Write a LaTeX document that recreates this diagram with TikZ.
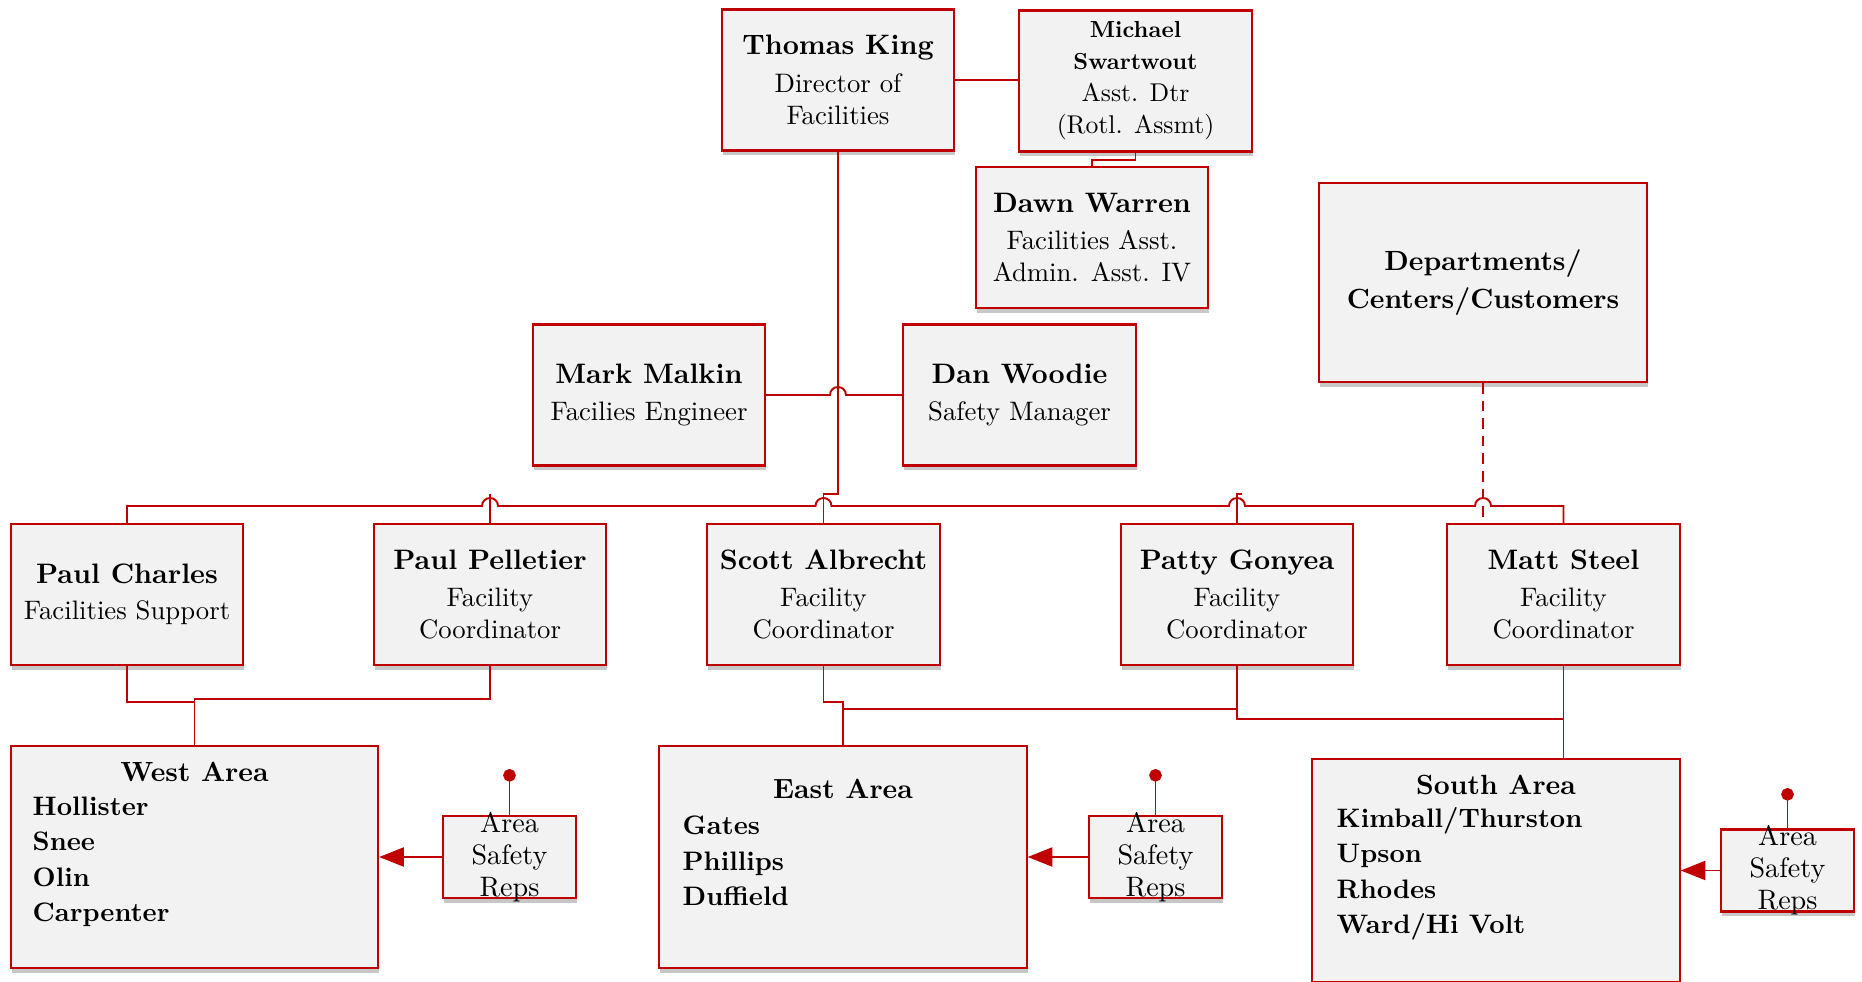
\documentclass[tikz,border=0pt]{standalone}
\usepackage{fontspec}
\setmainfont{lmroman10-regular.otf}[BoldFont=lmroman10-bold.otf]
\usepackage{tikz}
\usepackage{xcolor}
\usetikzlibrary{arrows.meta,calc,shadows}
\definecolor{DarkRed}{RGB}{192,0,0}
\definecolor{BoxGray}{RGB}{242,242,242}
\colorlet{ShadowGray}{black!22}
\newcommand{\nameFont}{\fontsize{8}{9.7}\selectfont\bfseries}
\newcommand{\smallNameFont}{\fontsize{6.6}{9.1}\selectfont\bfseries}
\newcommand{\descFont}{\fontsize{7.6}{9.1}\selectfont}
\newcommand{\areaFont}{\fontsize{7.6}{10.1}\selectfont\bfseries}
\tikzstyle{personBlock}=[draw=DarkRed, fill=BoxGray, line width=0.6pt, minimum width=2.32cm, minimum height=1.41cm, inner sep=1pt, align=center, font=\descFont, drop shadow={shadow xshift=0.3pt, shadow yshift=-1.3pt, fill=ShadowGray, opacity=1}]
\tikzstyle{areaBlock}=[personBlock, minimum width=3.67cm, minimum height=2.22cm]
\tikzstyle{repsBlock}=[personBlock, minimum width=1.33cm, minimum height=0.82cm]
\tikzstyle{repsText}=[inner sep=0pt, align=center, font=\fontsize{8}{9.1}\selectfont]
\tikzstyle{areaText}=[inner sep=0pt, align=left, font=\areaFont]
\tikzstyle{orgLink}=[draw=DarkRed, line width=0.55pt]
\tikzstyle{dashedLink}=[orgLink, dash pattern=on 3pt off 2pt]
\tikzstyle{repsArrow}=[orgLink, -{Triangle[length=7pt,width=5.4pt]}]
\tikzstyle{repsPin}=[orgLink, {Circle[length=3.6pt]}-]

\begin{document}
\begin{tikzpicture}[x=0.01cm, y=-0.01cm]
	\useasboundingbox (0,0) rectangle (1862,982);
	\coordinate (jogY) at (0,494);
	\coordinate (busY) at (0,506);

	% Director and office
	\node[personBlock] (director) at (838,80) {{\nameFont Thomas King}\\[1.5pt]Director of\\Facilities};
	\node[personBlock, font=\fontsize{7.3}{9.1}\selectfont] (asstDirector) at (1135.5,81) {{\smallNameFont Michael}\\{\smallNameFont Swartwout}\\Asst. Dtr\\(Rotl. Assmt)};
	\node[personBlock] (adminAsst) at (1092,237.5) {{\nameFont Dawn Warren}\\[1.5pt]Facilities Asst.\\Admin. Asst. IV};
	\draw[orgLink] (director.east |- 0,80) -- (asstDirector.west |- 0,80);
	\draw[orgLink] (asstDirector.south) -- ++(0,7) -| (adminAsst.north);

	\node[personBlock, minimum width=3.28cm, minimum height=1.99cm, font=\fontsize{7.9}{10.8}\selectfont\bfseries] (customers) at (1483,282.5) {Departments/\\Centers/Customers};

	% Staff
	\node[personBlock] (engineer) at (649,395) {{\nameFont Mark Malkin}\\[1.5pt]Facilies Engineer};
	\node[personBlock] (safetyMgr) at (1019.5,395) {{\nameFont Dan Woodie}\\[1.5pt]Safety Manager};
	\draw[orgLink] (engineer) -- ($(director.south |- engineer)+(-8,0)$) arc[start angle=180,end angle=0,radius=0.08cm] -- (safetyMgr);

	% Coordinators
	\node[personBlock] (charles) at (127,594.5) {{\nameFont Paul Charles}\\[1pt]Facilities Support};
	\node[personBlock] (pelletier) at (490,594.5) {{\nameFont Paul Pelletier}\\[1.5pt]Facility\\Coordinator};
	\node[personBlock] (albrecht) at (823.5,594.5) {{\nameFont Scott Albrecht}\\[1.5pt]Facility\\Coordinator};
	\node[personBlock] (gonyea) at (1237,594.5) {{\nameFont Patty Gonyea}\\[1.5pt]Facility\\Coordinator};
	\node[personBlock] (steel) at (1563.5,594.5) {{\nameFont Matt Steel}\\[1.5pt]Facility\\Coordinator};

	\draw[orgLink] (director.south) -- (director.south |- jogY) -| (albrecht.north);
	\draw[orgLink] (charles.north) |- ($(pelletier.north |- busY)+(-8,0)$) arc[start angle=180,end angle=0,radius=0.08cm]
		-- ($(albrecht.north |- busY)+(-8,0)$) arc[start angle=180,end angle=0,radius=0.08cm]
		-- ($(gonyea.north |- busY)+(-8,0)$) arc[start angle=180,end angle=0,radius=0.08cm]
		-- ($(customers.south |- busY)+(-8,0)$) arc[start angle=180,end angle=0,radius=0.08cm]
		-| (steel.north);
	\draw[orgLink] (pelletier.north) -- ++(0,-29);
	\draw[orgLink] (gonyea.north) -- ++(0,-29) -- ++(5,0);
	\draw[dashedLink] (customers.south) -- ($(customers.south |- steel.north)+(0,-6)$);

	% Areas
	\node[areaBlock] (westArea) at (194.5,857) {};
	\node[areaText, font=\fontsize{7.9}{10.1}\selectfont\bfseries] (westTitle) at (194.5,772) {West Area};
	\node[areaText, anchor=west] (westList) at (32,862) {Hollister\\Snee\\Olin\\Carpenter};

	\node[areaBlock] (eastArea) at (843,857) {};
	\node[areaText, font=\fontsize{7.9}{10.1}\selectfont\bfseries] (eastTitle) at (843,789) {East Area};
	\node[areaText, anchor=west] (eastList) at (682,861) {Gates\\Phillips\\Duffield};

	\node[areaBlock] (southArea) at (1496,870.5) {};
	\node[areaText, font=\fontsize{7.9}{10.1}\selectfont\bfseries] (southTitle) at (1496,785) {South Area};
	\node[areaText, anchor=west] (southList) at (1336,874) {Kimball/Thurston\\Upson\\Rhodes\\Ward/Hi Volt};

	\draw[orgLink] (charles.south) -- ++(0,36) -| (westArea.north);
	\draw[orgLink] (pelletier.south) -- ++(0,33) -| (westArea.north);
	\draw[orgLink] (albrecht.south) -- ++(0,36) -| (eastArea.north);
	\draw[orgLink] (gonyea.south) -- ++(0,43) -| (eastArea.north);
	\draw[orgLink] (gonyea.south) -- ++(0,53) -| (southArea.north -| steel.south);
	\draw[orgLink] (steel.south) -- (southArea.north -| steel.south);

	% Safety reps
	\node[repsBlock] (westReps) at (509.5,857) {};
	\node[repsText] (westRepsLabel) at (westReps) {Area\\Safety\\Reps};
	\coordinate (westPin) at (509.5,769);
	\draw[repsPin] (westPin) -- (westReps.north);
	\draw[repsArrow] (westReps) -- (westArea);

	\node[repsBlock] (eastReps) at (1155.5,857) {};
	\node[repsText] (eastRepsLabel) at (eastReps) {Area\\Safety\\Reps};
	\coordinate (eastPin) at (1155.5,769);
	\draw[repsPin] (eastPin) -- (eastReps.north);
	\draw[repsArrow] (eastReps) -- (eastArea);

	\node[repsBlock] (southReps) at (1787.5,870.5) {};
	\node[repsText] (southRepsLabel) at (southReps) {Area\\Safety\\Reps};
	\coordinate (southPin) at (1787.5,788);
	\draw[repsPin] (southPin) -- (southReps.north);
	\draw[repsArrow] (southReps) -- (southArea);

\end{tikzpicture}
\end{document}
